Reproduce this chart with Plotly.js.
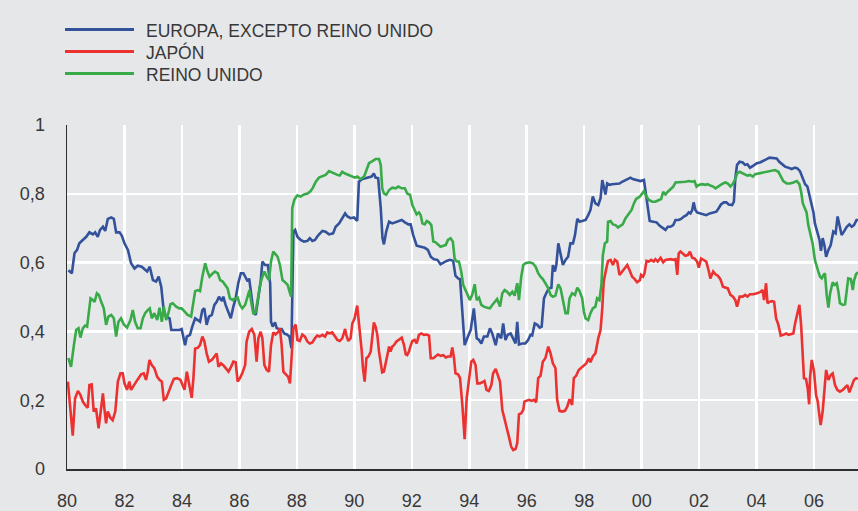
<!DOCTYPE html>
<html>
<head>
<meta charset="utf-8">
<script src="https://cdn.plot.ly/plotly-3.0.1.min.js"></script>
<style>html,body{margin:0;padding:0;background:#e6e7e9;}#chart{width:858px;height:511px;}</style>
</head>
<body>
<div id="chart"></div>
<script>
// Series names
const SERIES_NAMES = ['EUROPA, EXCEPTO REINO UNIDO', 'JAPÓN', 'REINO UNIDO'];

// [year, value] readings
const EUROPA = [[1980.05,0.578],[1980.17,0.569],[1980.26,0.627],[1980.35,0.637],[1980.43,0.656],[1980.55,0.666],[1980.67,0.675],[1980.78,0.688],[1980.90,0.682],[1980.98,0.688],[1981.07,0.675],[1981.15,0.695],[1981.25,0.704],[1981.33,0.692],[1981.42,0.727],[1981.54,0.731],[1981.63,0.727],[1981.71,0.688],[1981.83,0.688],[1981.91,0.678],[1982.00,0.656],[1982.12,0.637],[1982.23,0.598],[1982.35,0.583],[1982.46,0.591],[1982.60,0.588],[1982.70,0.581],[1982.79,0.574],[1982.88,0.588],[1982.99,0.549],[1983.10,0.545],[1983.19,0.559],[1983.28,0.530],[1983.37,0.457],[1983.45,0.443],[1983.57,0.438],[1983.63,0.404],[1983.74,0.404],[1983.91,0.404],[1983.99,0.407],[1984.11,0.360],[1984.17,0.385],[1984.28,0.390],[1984.36,0.414],[1984.46,0.438],[1984.55,0.433],[1984.63,0.428],[1984.71,0.462],[1984.78,0.467],[1984.86,0.419],[1984.94,0.443],[1985.04,0.448],[1985.13,0.477],[1985.21,0.486],[1985.29,0.501],[1985.39,0.488],[1985.44,0.501],[1985.52,0.477],[1985.62,0.457],[1985.70,0.438],[1985.79,0.472],[1985.87,0.496],[1985.96,0.540],[1986.05,0.569],[1986.14,0.569],[1986.22,0.554],[1986.29,0.545],[1986.34,0.554],[1986.41,0.515],[1986.49,0.457],[1986.57,0.448],[1986.66,0.501],[1986.74,0.545],[1986.80,0.603],[1986.89,0.593],[1986.99,0.593],[1987.07,0.540],[1987.10,0.428],[1987.16,0.414],[1987.24,0.426],[1987.30,0.409],[1987.38,0.407],[1987.47,0.407],[1987.56,0.394],[1987.65,0.391],[1987.74,0.385],[1987.81,0.351],[1987.88,0.690],[1987.94,0.695],[1988.02,0.675],[1988.13,0.666],[1988.25,0.661],[1988.37,0.663],[1988.45,0.671],[1988.54,0.663],[1988.63,0.666],[1988.75,0.680],[1988.89,0.692],[1989.00,0.690],[1989.12,0.682],[1989.26,0.685],[1989.35,0.704],[1989.47,0.714],[1989.58,0.729],[1989.68,0.743],[1989.76,0.734],[1989.87,0.729],[1989.99,0.731],[1990.10,0.721],[1990.16,0.835],[1990.28,0.843],[1990.39,0.845],[1990.49,0.847],[1990.60,0.850],[1990.68,0.859],[1990.74,0.847],[1990.83,0.845],[1990.92,0.758],[1990.98,0.671],[1991.03,0.653],[1991.11,0.690],[1991.21,0.719],[1991.32,0.714],[1991.44,0.717],[1991.53,0.721],[1991.65,0.724],[1991.76,0.717],[1991.88,0.711],[1991.96,0.711],[1992.05,0.680],[1992.17,0.649],[1992.31,0.646],[1992.45,0.643],[1992.56,0.637],[1992.66,0.617],[1992.77,0.610],[1992.89,0.608],[1993.00,0.595],[1993.10,0.601],[1993.21,0.605],[1993.33,0.608],[1993.44,0.605],[1993.52,0.562],[1993.61,0.554],[1993.68,0.552],[1993.76,0.448],[1993.84,0.360],[1993.93,0.380],[1994.05,0.404],[1994.16,0.467],[1994.26,0.380],[1994.34,0.375],[1994.42,0.365],[1994.51,0.385],[1994.63,0.385],[1994.72,0.409],[1994.80,0.394],[1994.92,0.360],[1995.00,0.394],[1995.11,0.380],[1995.18,0.423],[1995.26,0.375],[1995.34,0.390],[1995.44,0.394],[1995.53,0.380],[1995.61,0.365],[1995.67,0.428],[1995.73,0.362],[1995.84,0.365],[1995.95,0.365],[1996.05,0.375],[1996.13,0.390],[1996.19,0.388],[1996.28,0.423],[1996.37,0.419],[1996.45,0.411],[1996.52,0.414],[1996.60,0.496],[1996.68,0.511],[1996.77,0.525],[1996.86,0.527],[1996.91,0.593],[1996.98,0.574],[1997.03,0.593],[1997.10,0.656],[1997.18,0.627],[1997.26,0.593],[1997.35,0.608],[1997.44,0.617],[1997.52,0.656],[1997.61,0.656],[1997.68,0.680],[1997.76,0.727],[1997.84,0.719],[1997.93,0.721],[1998.05,0.724],[1998.14,0.738],[1998.22,0.753],[1998.30,0.792],[1998.39,0.772],[1998.49,0.767],[1998.57,0.787],[1998.63,0.840],[1998.68,0.816],[1998.74,0.798],[1998.80,0.830],[1998.88,0.826],[1998.97,0.828],[1999.07,0.828],[1999.15,0.830],[1999.23,0.830],[1999.32,0.835],[1999.44,0.840],[1999.53,0.845],[1999.61,0.847],[1999.69,0.843],[1999.79,0.840],[1999.96,0.837],[2000.08,0.840],[2000.13,0.806],[2000.21,0.758],[2000.28,0.721],[2000.40,0.719],[2000.52,0.717],[2000.63,0.707],[2000.75,0.700],[2000.83,0.695],[2000.91,0.704],[2001.00,0.704],[2001.10,0.709],[2001.18,0.724],[2001.29,0.724],[2001.37,0.727],[2001.47,0.734],[2001.56,0.738],[2001.64,0.746],[2001.70,0.743],[2001.76,0.753],[2001.81,0.775],[2001.87,0.753],[2001.93,0.746],[2002.05,0.743],[2002.14,0.740],[2002.25,0.738],[2002.37,0.743],[2002.49,0.746],[2002.60,0.748],[2002.68,0.758],[2002.76,0.769],[2002.86,0.775],[2002.95,0.775],[2003.03,0.769],[2003.15,0.767],[2003.21,0.777],[2003.26,0.845],[2003.32,0.884],[2003.41,0.893],[2003.52,0.891],[2003.60,0.884],[2003.68,0.886],[2003.77,0.876],[2003.89,0.882],[2004.01,0.889],[2004.12,0.891],[2004.24,0.895],[2004.35,0.901],[2004.45,0.905],[2004.59,0.905],[2004.70,0.903],[2004.79,0.893],[2004.88,0.886],[2004.99,0.879],[2005.11,0.876],[2005.22,0.872],[2005.34,0.876],[2005.42,0.874],[2005.51,0.866],[2005.61,0.845],[2005.69,0.828],[2005.77,0.821],[2005.84,0.797],[2005.92,0.763],[2005.98,0.746],[2006.03,0.714],[2006.12,0.690],[2006.19,0.666],[2006.24,0.634],[2006.30,0.671],[2006.36,0.651],[2006.42,0.617],[2006.50,0.637],[2006.58,0.651],[2006.67,0.690],[2006.75,0.685],[2006.82,0.734],[2006.88,0.709],[2006.96,0.680],[2007.04,0.690],[2007.14,0.704],[2007.23,0.711],[2007.31,0.704],[2007.39,0.709],[2007.48,0.724],[2007.53,0.724]];

const JAPON = [[1980.03,0.254],[1980.12,0.167],[1980.20,0.097],[1980.28,0.205],[1980.38,0.227],[1980.47,0.215],[1980.55,0.196],[1980.63,0.186],[1980.72,0.178],[1980.78,0.244],[1980.86,0.246],[1980.93,0.167],[1981.01,0.176],[1981.10,0.118],[1981.17,0.172],[1981.25,0.220],[1981.30,0.176],[1981.36,0.133],[1981.42,0.167],[1981.51,0.149],[1981.59,0.142],[1981.68,0.167],[1981.77,0.254],[1981.86,0.278],[1981.94,0.278],[1982.00,0.249],[1982.09,0.230],[1982.17,0.254],[1982.23,0.230],[1982.32,0.244],[1982.41,0.254],[1982.49,0.264],[1982.58,0.275],[1982.67,0.278],[1982.75,0.259],[1982.81,0.283],[1982.87,0.317],[1982.95,0.302],[1983.04,0.293],[1983.14,0.268],[1983.22,0.259],[1983.30,0.254],[1983.37,0.201],[1983.45,0.205],[1983.53,0.225],[1983.63,0.244],[1983.72,0.262],[1983.83,0.264],[1983.95,0.259],[1984.09,0.230],[1984.17,0.283],[1984.25,0.244],[1984.34,0.207],[1984.40,0.264],[1984.46,0.350],[1984.55,0.352],[1984.63,0.360],[1984.71,0.385],[1984.78,0.372],[1984.86,0.336],[1984.94,0.312],[1985.04,0.317],[1985.13,0.327],[1985.21,0.336],[1985.27,0.297],[1985.36,0.307],[1985.44,0.302],[1985.52,0.293],[1985.62,0.283],[1985.71,0.297],[1985.79,0.312],[1985.87,0.310],[1985.94,0.254],[1986.02,0.264],[1986.10,0.278],[1986.20,0.302],[1986.25,0.370],[1986.34,0.399],[1986.43,0.407],[1986.52,0.390],[1986.60,0.312],[1986.66,0.380],[1986.74,0.399],[1986.80,0.380],[1986.87,0.302],[1986.95,0.288],[1987.03,0.283],[1987.10,0.360],[1987.18,0.397],[1987.26,0.391],[1987.36,0.399],[1987.41,0.409],[1987.47,0.360],[1987.53,0.283],[1987.61,0.275],[1987.70,0.268],[1987.76,0.249],[1987.82,0.322],[1987.88,0.409],[1987.96,0.420],[1988.02,0.375],[1988.10,0.372],[1988.19,0.391],[1988.28,0.385],[1988.37,0.370],[1988.45,0.365],[1988.54,0.368],[1988.63,0.380],[1988.71,0.388],[1988.79,0.385],[1988.89,0.390],[1988.98,0.385],[1989.06,0.397],[1989.14,0.394],[1989.23,0.397],[1989.33,0.385],[1989.41,0.375],[1989.49,0.372],[1989.58,0.380],[1989.68,0.407],[1989.72,0.390],[1989.79,0.372],[1989.87,0.380],[1989.93,0.423],[1990.01,0.438],[1990.10,0.475],[1990.19,0.409],[1990.26,0.341],[1990.30,0.293],[1990.36,0.254],[1990.42,0.322],[1990.49,0.327],[1990.57,0.341],[1990.65,0.399],[1990.68,0.426],[1990.74,0.414],[1990.80,0.390],[1990.86,0.341],[1990.92,0.302],[1990.97,0.281],[1991.03,0.283],[1991.09,0.304],[1991.15,0.331],[1991.21,0.356],[1991.26,0.341],[1991.32,0.356],[1991.38,0.360],[1991.46,0.370],[1991.55,0.375],[1991.65,0.382],[1991.73,0.360],[1991.79,0.333],[1991.84,0.331],[1991.90,0.341],[1991.95,0.356],[1992.02,0.372],[1992.10,0.375],[1992.17,0.365],[1992.25,0.390],[1992.33,0.394],[1992.42,0.390],[1992.52,0.391],[1992.60,0.388],[1992.66,0.322],[1992.75,0.322],[1992.83,0.327],[1992.91,0.333],[1993.00,0.329],[1993.10,0.331],[1993.18,0.324],[1993.26,0.327],[1993.35,0.327],[1993.41,0.353],[1993.47,0.322],[1993.52,0.278],[1993.61,0.275],[1993.68,0.264],[1993.76,0.186],[1993.84,0.087],[1993.91,0.205],[1993.99,0.264],[1994.07,0.312],[1994.14,0.317],[1994.22,0.302],[1994.28,0.249],[1994.37,0.249],[1994.45,0.252],[1994.53,0.256],[1994.60,0.230],[1994.68,0.227],[1994.77,0.244],[1994.83,0.278],[1994.92,0.291],[1995.00,0.273],[1995.07,0.254],[1995.15,0.172],[1995.23,0.147],[1995.30,0.123],[1995.38,0.094],[1995.46,0.065],[1995.53,0.055],[1995.61,0.058],[1995.67,0.075],[1995.73,0.159],[1995.81,0.162],[1995.88,0.172],[1995.92,0.196],[1995.98,0.198],[1996.08,0.201],[1996.17,0.198],[1996.25,0.201],[1996.33,0.194],[1996.40,0.264],[1996.48,0.271],[1996.56,0.312],[1996.65,0.322],[1996.75,0.356],[1996.83,0.336],[1996.91,0.307],[1997.00,0.293],[1997.06,0.201],[1997.14,0.169],[1997.23,0.167],[1997.33,0.169],[1997.41,0.181],[1997.49,0.203],[1997.58,0.186],[1997.64,0.264],[1997.72,0.271],[1997.81,0.288],[1997.91,0.295],[1997.99,0.300],[1998.07,0.307],[1998.16,0.322],[1998.22,0.310],[1998.30,0.327],[1998.39,0.336],[1998.49,0.380],[1998.57,0.404],[1998.63,0.467],[1998.68,0.545],[1998.77,0.583],[1998.83,0.605],[1998.92,0.608],[1999.00,0.593],[1999.07,0.608],[1999.15,0.603],[1999.23,0.564],[1999.32,0.574],[1999.41,0.583],[1999.50,0.593],[1999.58,0.578],[1999.67,0.559],[1999.76,0.552],[1999.84,0.543],[1999.94,0.549],[1999.98,0.564],[2000.05,0.559],[2000.10,0.569],[2000.17,0.605],[2000.25,0.603],[2000.33,0.608],[2000.42,0.603],[2000.48,0.610],[2000.56,0.603],[2000.66,0.614],[2000.75,0.601],[2000.83,0.608],[2000.91,0.610],[2001.00,0.610],[2001.10,0.608],[2001.18,0.610],[2001.24,0.564],[2001.29,0.627],[2001.35,0.632],[2001.44,0.627],[2001.52,0.620],[2001.61,0.622],[2001.68,0.632],[2001.76,0.614],[2001.84,0.612],[2001.93,0.603],[2001.99,0.585],[2002.07,0.612],[2002.16,0.608],[2002.25,0.603],[2002.34,0.574],[2002.39,0.554],[2002.49,0.574],[2002.57,0.566],[2002.65,0.562],[2002.74,0.552],[2002.83,0.530],[2002.92,0.527],[2003.00,0.525],[2003.09,0.506],[2003.18,0.501],[2003.26,0.491],[2003.32,0.472],[2003.41,0.501],[2003.52,0.501],[2003.60,0.506],[2003.68,0.501],[2003.77,0.508],[2003.89,0.508],[2004.01,0.511],[2004.12,0.514],[2004.21,0.520],[2004.26,0.491],[2004.33,0.540],[2004.38,0.482],[2004.45,0.486],[2004.53,0.488],[2004.61,0.486],[2004.68,0.438],[2004.76,0.419],[2004.84,0.388],[2004.93,0.390],[2005.03,0.394],[2005.11,0.390],[2005.19,0.391],[2005.28,0.394],[2005.34,0.423],[2005.42,0.457],[2005.49,0.477],[2005.55,0.419],[2005.61,0.341],[2005.65,0.264],[2005.72,0.262],[2005.78,0.234],[2005.83,0.188],[2005.86,0.264],[2005.92,0.317],[2006.00,0.283],[2006.07,0.215],[2006.13,0.196],[2006.17,0.167],[2006.23,0.128],[2006.30,0.167],[2006.36,0.234],[2006.42,0.288],[2006.50,0.259],[2006.58,0.273],[2006.65,0.278],[2006.73,0.244],[2006.81,0.230],[2006.90,0.225],[2007.00,0.230],[2007.08,0.236],[2007.16,0.244],[2007.23,0.223],[2007.31,0.244],[2007.39,0.259],[2007.46,0.264],[2007.53,0.262]];

const REINO_UNIDO = [[1980.05,0.322],[1980.14,0.297],[1980.24,0.360],[1980.32,0.404],[1980.40,0.409],[1980.47,0.382],[1980.55,0.409],[1980.63,0.417],[1980.70,0.414],[1980.75,0.457],[1980.82,0.496],[1980.90,0.491],[1980.96,0.486],[1981.04,0.511],[1981.11,0.506],[1981.19,0.486],[1981.28,0.467],[1981.36,0.419],[1981.44,0.443],[1981.54,0.448],[1981.63,0.438],[1981.71,0.385],[1981.79,0.428],[1981.88,0.438],[1981.98,0.420],[1982.09,0.411],[1982.21,0.433],[1982.29,0.462],[1982.37,0.428],[1982.46,0.409],[1982.56,0.409],[1982.64,0.438],[1982.72,0.453],[1982.81,0.462],[1982.88,0.467],[1982.95,0.438],[1983.04,0.453],[1983.14,0.433],[1983.22,0.469],[1983.30,0.428],[1983.37,0.472],[1983.45,0.433],[1983.53,0.453],[1983.60,0.479],[1983.68,0.482],[1983.80,0.472],[1983.91,0.467],[1983.99,0.467],[1984.09,0.457],[1984.20,0.448],[1984.32,0.443],[1984.40,0.486],[1984.46,0.517],[1984.55,0.520],[1984.63,0.517],[1984.71,0.559],[1984.81,0.598],[1984.89,0.574],[1984.96,0.559],[1985.04,0.566],[1985.15,0.574],[1985.25,0.569],[1985.33,0.549],[1985.42,0.545],[1985.50,0.535],[1985.59,0.525],[1985.67,0.496],[1985.77,0.491],[1985.85,0.496],[1985.94,0.498],[1986.02,0.477],[1986.10,0.467],[1986.20,0.477],[1986.29,0.506],[1986.35,0.520],[1986.41,0.486],[1986.49,0.450],[1986.57,0.457],[1986.64,0.501],[1986.72,0.535],[1986.80,0.559],[1986.87,0.574],[1986.95,0.559],[1987.03,0.549],[1987.10,0.603],[1987.18,0.632],[1987.26,0.624],[1987.33,0.617],[1987.41,0.593],[1987.50,0.549],[1987.59,0.543],[1987.68,0.535],[1987.74,0.517],[1987.80,0.501],[1987.84,0.758],[1987.91,0.782],[1987.98,0.792],[1988.02,0.795],[1988.13,0.792],[1988.25,0.798],[1988.37,0.801],[1988.48,0.808],[1988.56,0.818],[1988.66,0.835],[1988.77,0.847],[1988.89,0.850],[1989.00,0.855],[1989.12,0.866],[1989.21,0.862],[1989.33,0.857],[1989.41,0.855],[1989.49,0.853],[1989.58,0.864],[1989.68,0.859],[1989.79,0.855],[1989.91,0.853],[1990.02,0.847],[1990.10,0.850],[1990.22,0.843],[1990.34,0.850],[1990.42,0.869],[1990.51,0.889],[1990.63,0.895],[1990.74,0.901],[1990.86,0.901],[1990.92,0.884],[1990.97,0.816],[1991.03,0.801],[1991.11,0.797],[1991.21,0.811],[1991.32,0.818],[1991.44,0.816],[1991.53,0.821],[1991.65,0.816],[1991.76,0.816],[1991.84,0.801],[1991.94,0.797],[1992.02,0.767],[1992.10,0.753],[1992.17,0.740],[1992.25,0.746],[1992.31,0.738],[1992.37,0.714],[1992.45,0.711],[1992.52,0.721],[1992.60,0.717],[1992.68,0.709],[1992.75,0.661],[1992.83,0.659],[1992.91,0.653],[1993.00,0.646],[1993.10,0.649],[1993.18,0.651],[1993.26,0.666],[1993.35,0.671],[1993.43,0.661],[1993.49,0.612],[1993.56,0.603],[1993.64,0.603],[1993.72,0.574],[1993.79,0.535],[1993.87,0.520],[1993.95,0.506],[1994.02,0.491],[1994.10,0.506],[1994.19,0.537],[1994.26,0.491],[1994.34,0.498],[1994.42,0.477],[1994.51,0.472],[1994.63,0.469],[1994.72,0.467],[1994.80,0.477],[1994.88,0.486],[1994.97,0.494],[1995.07,0.472],[1995.15,0.511],[1995.23,0.520],[1995.32,0.515],[1995.41,0.506],[1995.50,0.515],[1995.58,0.504],[1995.67,0.540],[1995.73,0.491],[1995.81,0.559],[1995.88,0.593],[1995.96,0.598],[1996.10,0.601],[1996.21,0.598],[1996.31,0.588],[1996.40,0.569],[1996.48,0.559],[1996.56,0.552],[1996.65,0.540],[1996.75,0.525],[1996.83,0.506],[1996.91,0.501],[1997.00,0.504],[1997.10,0.537],[1997.18,0.525],[1997.26,0.491],[1997.35,0.453],[1997.43,0.453],[1997.49,0.496],[1997.58,0.511],[1997.68,0.506],[1997.76,0.527],[1997.84,0.517],[1997.93,0.496],[1997.99,0.457],[1998.05,0.438],[1998.14,0.433],[1998.22,0.453],[1998.30,0.467],[1998.39,0.472],[1998.45,0.496],[1998.53,0.491],[1998.60,0.535],[1998.65,0.622],[1998.72,0.656],[1998.80,0.661],[1998.83,0.719],[1998.92,0.721],[1999.00,0.711],[1999.09,0.709],[1999.18,0.702],[1999.26,0.707],[1999.34,0.711],[1999.44,0.729],[1999.53,0.738],[1999.65,0.753],[1999.73,0.772],[1999.81,0.785],[1999.88,0.789],[1999.94,0.792],[2000.02,0.801],[2000.08,0.808],[2000.17,0.792],[2000.25,0.782],[2000.37,0.777],[2000.48,0.777],[2000.60,0.782],[2000.68,0.785],[2000.75,0.806],[2000.83,0.798],[2000.91,0.806],[2001.00,0.814],[2001.10,0.821],[2001.18,0.833],[2001.29,0.833],[2001.41,0.833],[2001.52,0.835],[2001.64,0.837],[2001.76,0.835],[2001.84,0.837],[2001.91,0.821],[2001.99,0.826],[2002.10,0.828],[2002.22,0.826],[2002.30,0.828],[2002.39,0.824],[2002.49,0.821],[2002.57,0.816],[2002.65,0.821],[2002.74,0.826],[2002.83,0.830],[2002.92,0.833],[2003.00,0.830],[2003.09,0.821],[2003.18,0.830],[2003.26,0.843],[2003.32,0.859],[2003.41,0.864],[2003.52,0.859],[2003.60,0.857],[2003.68,0.853],[2003.77,0.855],[2003.87,0.850],[2003.95,0.857],[2004.06,0.859],[2004.18,0.862],[2004.30,0.864],[2004.41,0.866],[2004.53,0.869],[2004.64,0.869],[2004.76,0.864],[2004.84,0.850],[2004.93,0.837],[2005.05,0.830],[2005.17,0.830],[2005.28,0.833],[2005.40,0.837],[2005.49,0.828],[2005.55,0.806],[2005.61,0.772],[2005.69,0.753],[2005.74,0.746],[2005.80,0.709],[2005.88,0.685],[2005.95,0.656],[2006.03,0.608],[2006.09,0.588],[2006.15,0.574],[2006.21,0.559],[2006.27,0.554],[2006.33,0.564],[2006.38,0.569],[2006.44,0.506],[2006.50,0.469],[2006.56,0.511],[2006.65,0.543],[2006.71,0.535],[2006.79,0.540],[2006.85,0.515],[2006.90,0.482],[2007.00,0.477],[2007.08,0.479],[2007.14,0.520],[2007.19,0.554],[2007.28,0.552],[2007.35,0.520],[2007.39,0.547],[2007.46,0.566],[2007.53,0.572]];

// Axis ticks
const X_TICK_VALS = [1980,1982,1984,1986,1988,1990,1992,1994,1996,1998,2000,2002,2004,2006];
const X_TICK_TEXT = ['80','82','84','86','88','90','92','94','96','98','00','02','04','06'];
const Y_TICK_VALS = [0,0.2,0.4,0.6,0.8,1];
const Y_TICK_TEXT = ['0','0,2','0,4','0,6','0,8','1'];

const COLORS = ['#33529b', '#ec3131', '#38aa48'];
const FONT = 'Liberation Sans, Arial, sans-serif';
const TXT = '#383838';

const W = 858, H = 511;
const M = {l: 67, r: 0, t: 125, b: 42};
const plotW = W - M.l - M.r, plotH = H - M.t - M.b;
const px2x = p => (p - M.l) / plotW;
const py2y = p => (H - M.b - p) / plotH;

const seriesData = [EUROPA, JAPON, REINO_UNIDO];
const traces = seriesData.map((pts, i) => ({
  type: 'scatter', mode: 'lines', name: SERIES_NAMES[i],
  x: pts.map(p => p[0]), y: pts.map(p => p[1]),
  line: {color: COLORS[i], width: 2.6},
  hoverinfo: 'skip'
}));

const legendRows = [29.5, 51.5, 73.5];
const shapes = legendRows.map((ry, i) => ({
  type: 'line', xref: 'paper', yref: 'paper',
  x0: px2x(65), x1: px2x(134), y0: py2y(ry), y1: py2y(ry),
  line: {color: COLORS[i], width: 3}
}));
const annotations = legendRows.map((ry, i) => ({
  xref: 'paper', yref: 'paper', x: px2x(144), y: py2y(ry + 1),
  xanchor: 'left', yanchor: 'middle', showarrow: false,
  text: SERIES_NAMES[i], font: {family: FONT, size: 17.5, color: TXT}
}));

const layout = {
  width: W, height: H,
  margin: M,
  paper_bgcolor: '#e6e7e9', plot_bgcolor: '#e6e7e9',
  showlegend: false,
  xaxis: {
    range: [1980, 2007.53], tickmode: 'array', tickvals: X_TICK_VALS, ticktext: X_TICK_TEXT,
    showgrid: true, gridcolor: '#ffffff', gridwidth: 2.5,
    showline: true, linecolor: '#2e2e2e', linewidth: 1.5,
    ticks: '', zeroline: false, ticklabelstandoff: 15,
    tickfont: {family: FONT, size: 18, color: TXT}, fixedrange: true
  },
  yaxis: {
    range: [0, 1], tickmode: 'array', tickvals: Y_TICK_VALS, ticktext: Y_TICK_TEXT,
    showgrid: true, gridcolor: '#ffffff', gridwidth: 2.5,
    showline: true, linecolor: '#2e2e2e', linewidth: 1.5,
    ticks: '', zeroline: false, ticklabelstandoff: 17,
    tickfont: {family: FONT, size: 18, color: TXT}, fixedrange: true
  },
  shapes: shapes,
  annotations: annotations
};

Plotly.newPlot('chart', traces, layout, {displayModeBar: false, staticPlot: true});
</script>
</body>
</html>
